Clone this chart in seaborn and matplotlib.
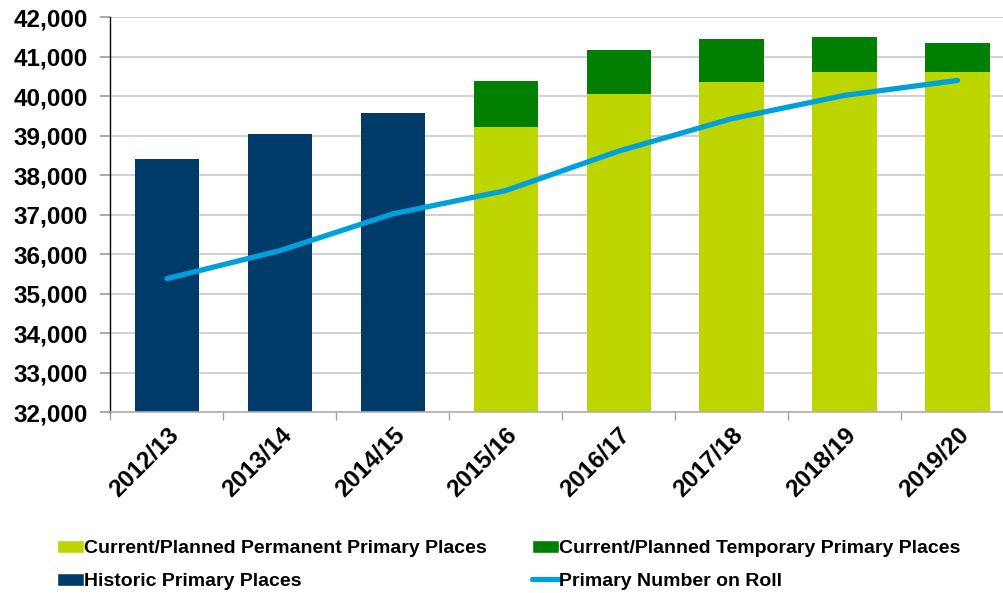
import numpy as np
import pandas as pd
import matplotlib
matplotlib.use("Agg")
import matplotlib.pyplot as plt
import seaborn as sns
from matplotlib.patches import Patch
from matplotlib.lines import Line2D

# Data
years = ['2012/13', '2013/14', '2014/15', '2015/16', '2016/17', '2017/18', '2018/19', '2019/20']
historic = [38420, 39050, 39580, np.nan, np.nan, np.nan, np.nan, np.nan]
permanent = [np.nan, np.nan, np.nan, 39230, 40050, 40355, 40600, 40600]
temporary = [np.nan, np.nan, np.nan, 1165, 1115, 1105, 895, 740]
on_roll = [35380, 36090, 37020, 37610, 38610, 39430, 40020, 40400]

navy = '#003B69'
lime = '#BED600'
green = '#007F00'
blue = '#00A0DC'

sns.set_theme(style="white")
plt.rcParams['font.family'] = ['Liberation Sans', 'DejaVu Sans']
plt.rcParams['text.color'] = 'black'
plt.rcParams['xtick.color'] = 'black'
plt.rcParams['ytick.color'] = 'black'

df = pd.DataFrame({'year': years, 'historic': historic, 'permanent': permanent,
                   'temporary': temporary, 'roll': on_roll})
df['total'] = df['permanent'] + df['temporary']

fig = plt.figure(figsize=(10.04, 5.93), dpi=100)
ax = fig.add_axes([0.11, 0.305, 0.90, 0.666])

bar_w = 0.57
# stacked: draw total (temporary colour) first, then permanent over it
sns.barplot(data=df, x='year', y='total', order=years, color=green,
            width=bar_w, saturation=1, ax=ax, linewidth=0)
sns.barplot(data=df, x='year', y='permanent', order=years, color=lime,
            width=bar_w, saturation=1, ax=ax, linewidth=0)
sns.barplot(data=df, x='year', y='historic', order=years, color=navy,
            width=bar_w, saturation=1, ax=ax, linewidth=0)

sns.lineplot(x=np.arange(len(years)), y=df['roll'], color=blue, linewidth=3.8,
             ax=ax, solid_capstyle='round')

ax.set_ylim(32000, 42000)
ax.set_xlim(-0.5, len(years) - 0.5)
ax.set_yticks(np.arange(32000, 42001, 1000))
ax.yaxis.set_major_formatter(matplotlib.ticker.StrMethodFormatter('{x:,.0f}'))
ax.grid(axis='y', color='#c8c8c8', linewidth=1.2)
ax.set_axisbelow(True)
ax.set_xlabel('')
ax.set_ylabel('')

for s in ['top', 'right']:
    ax.spines[s].set_visible(False)
ax.spines['left'].set_color('black')
ax.spines['left'].set_linewidth(1)
ax.spines['bottom'].set_color('#b0b0b0')
ax.spines['bottom'].set_linewidth(1.2)

ax.set_xticks(np.arange(len(years)))
ax.set_xticklabels(years, rotation=45, ha='right', rotation_mode='anchor',
                   fontsize=17.5, fontweight='bold')
ax.set_xticks(np.arange(len(years) + 1) - 0.5, minor=True)
ax.tick_params(axis='x', which='major', length=0, pad=8)
ax.tick_params(axis='x', which='minor', length=6, color='#a0a0a0', direction='out', bottom=True)
ax.tick_params(axis='y', length=7, color='#a0a0a0', direction='out', left=True,
               labelsize=17.5, pad=9)
for lbl in ax.get_yticklabels():
    lbl.set_fontweight('bold')

handles = [
    Patch(facecolor=lime, label='Current/Planned Permanent Primary Places'),
    Patch(facecolor=navy, label='Historic Primary Places'),
    Patch(facecolor=green, label='Current/Planned Temporary Primary Places'),
    Line2D([0], [0], color=blue, linewidth=3.8, label='Primary Number on Roll'),
]
leg = fig.legend(handles=handles, ncol=2, loc='upper left', bbox_to_anchor=(0.049, 0.103),
                 frameon=False, prop={'weight': 'bold', 'size': 14},
                 handlelength=1.4, handleheight=0.65, handletextpad=0.0,
                 columnspacing=2.3, labelspacing=0.8, borderaxespad=0)

fig.savefig('out.png', dpi=100)
